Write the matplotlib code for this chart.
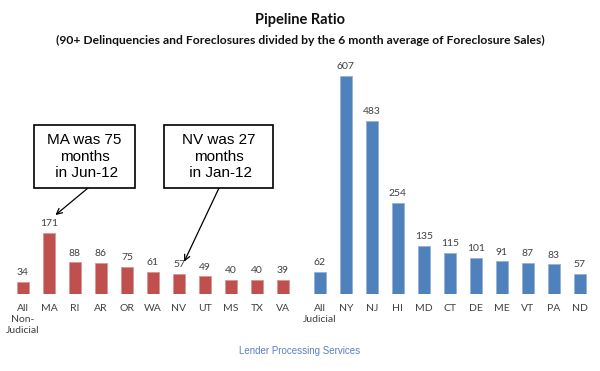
import matplotlib
matplotlib.use("Agg")
import matplotlib.pyplot as plt
from matplotlib.patches import Rectangle

# data
nonjud_states = ["All\nNon-\nJudicial", "MA", "RI", "AR", "OR", "WA", "NV", "UT", "MS", "TX", "VA"]
nonjud_values = [34, 171, 88, 86, 75, 61, 57, 49, 40, 40, 39]
jud_states = ["All\nJudicial", "NY", "NJ", "HI", "MD", "CT", "DE", "ME", "VT", "PA", "ND"]
jud_values = [62, 607, 483, 254, 135, 115, 101, 91, 87, 83, 57]

RED = "#C0504D"
BLUE = "#4F81BD"
TXT = "#404040"
FONT = "Lato"

fig = plt.figure(figsize=(6, 3.71), dpi=100)
W, H = 600, 371
# axes: bars baseline at y=294px from top
ax = fig.add_axes([5 / W, (H - 294) / H, 590 / W, 234 / H])

x_red = list(range(len(nonjud_values)))
x_blue = [11.42 + i for i in range(len(jud_values))]

ax.bar(x_red, nonjud_values, width=0.46, color=RED, edgecolor="#D99694", linewidth=0.6)
ax.bar(x_blue, jud_values, width=0.46, color=BLUE, edgecolor="#95B3D7", linewidth=0.6)

for xs, vs in ((x_red, nonjud_values), (x_blue, jud_values)):
    for x, v in zip(xs, vs):
        ax.text(x, v + 13, str(v), ha="center", va="bottom", fontsize=7.5, color=TXT, family=FONT)

ax.set_xticks(x_red + x_blue)
ax.set_xticklabels(nonjud_states + jud_states, fontsize=7.5, color=TXT, family=FONT, linespacing=1.3)
ax.tick_params(axis="x", length=0, pad=7)
ax.set_yticks([])
ax.set_xlim(-0.69, 22.0)
ax.set_ylim(0, 652)
for s in ax.spines.values():
    s.set_visible(False)

fig.text(0.5, 1 - 20 / H, "Pipeline Ratio", ha="center", va="center", fontsize=10.5,
         fontweight="bold", family=FONT, color="#111111")
fig.text(0.5, 1 - 40 / H,
         "(90+ Delinquencies and Foreclosures divided by the 6 month average of Foreclosure Sales)",
         ha="center", va="center", fontsize=8.7, fontweight="bold", family=FONT, color="#111111")
fig.text(0.5, 1 - 351 / H, "Lender Processing Services", ha="center", va="center",
         fontsize=7, color="#5B80BE", family="Liberation Sans")

# callout boxes
boxes = [
    ("MA was 75\nmonths\n in Jun-12", 34, 135, 88, (1.25, 220)),
    ("NV was 27\nmonths\n in Jan-12", 164, 273, 219, (6.2, 90)),
]
for txt, x0, x1, ax0, tip in boxes:
    fig.patches.append(Rectangle((x0 / W, 1 - 188 / H), (x1 - x0) / W, 63 / H,
                                 transform=fig.transFigure, facecolor="white",
                                 edgecolor="black", linewidth=1.2))
    fig.text((x0 + x1) / 2 / W, 1 - 156.5 / H, txt, ha="center", va="center",
             fontsize=11, family="Liberation Sans", linespacing=1.25, multialignment="center")
    ax.annotate("", xy=tip, xycoords="data",
                xytext=(ax0 / W, 1 - 188 / H), textcoords="figure fraction",
                arrowprops=dict(arrowstyle="->", color="black", lw=0.9,
                                shrinkA=0, shrinkB=0))

fig.savefig("out.png", dpi=100, facecolor="white")
